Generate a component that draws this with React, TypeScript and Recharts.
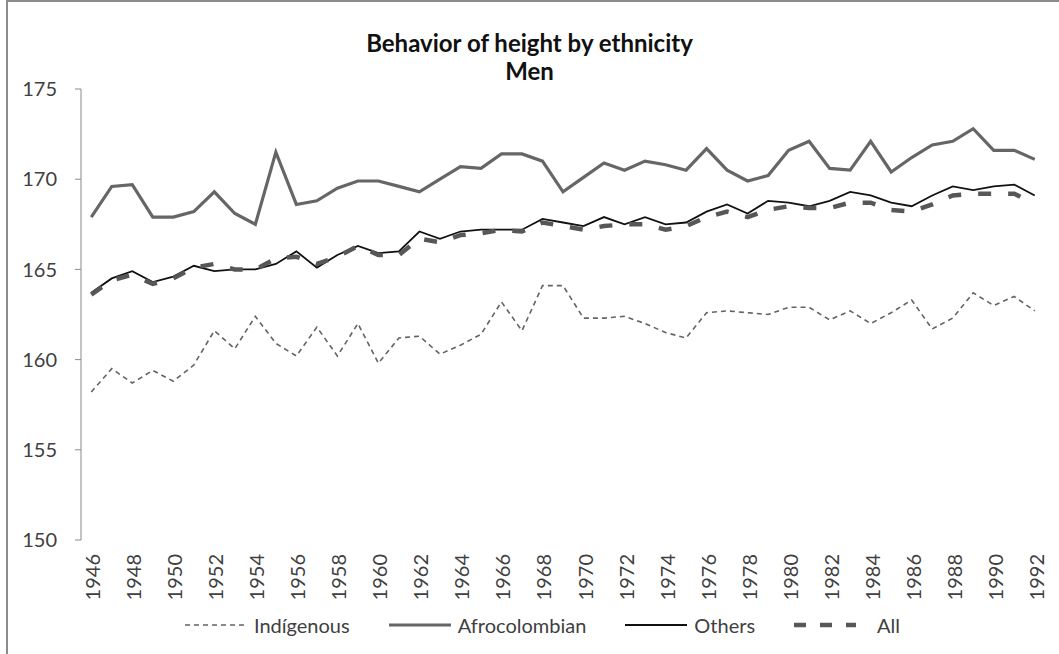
import { LineChart, Line, XAxis, YAxis, Legend } from 'recharts'

const years = [
  1946, 1947, 1948, 1949, 1950, 1951, 1952, 1953, 1954, 1955, 1956, 1957, 1958, 1959, 1960, 1961,
  1962, 1963, 1964, 1965, 1966, 1967, 1968, 1969, 1970, 1971, 1972, 1973, 1974, 1975, 1976, 1977,
  1978, 1979, 1980, 1981, 1982, 1983, 1984, 1985, 1986, 1987, 1988, 1989, 1990, 1991, 1992,
]

const indigenous = [
  158.2, 159.5, 158.7, 159.4, 158.8, 159.7, 161.6, 160.6, 162.4, 160.9, 160.2, 161.8, 160.2, 162.0, 159.8, 161.2,
  161.3, 160.3, 160.8, 161.4, 163.2, 161.6, 164.1, 164.1, 162.3, 162.3, 162.4, 162.0, 161.5, 161.2, 162.6, 162.7,
  162.6, 162.5, 162.9, 162.9, 162.2, 162.7, 162.0, 162.6, 163.3, 161.7, 162.3, 163.7, 163.0, 163.5, 162.7,
]

const afro = [
  167.9, 169.6, 169.7, 167.9, 167.9, 168.2, 169.3, 168.1, 167.5, 171.5, 168.6, 168.8, 169.5, 169.9, 169.9, 169.6,
  169.3, 170.0, 170.7, 170.6, 171.4, 171.4, 171.0, 169.3, 170.1, 170.9, 170.5, 171.0, 170.8, 170.5, 171.7, 170.5,
  169.9, 170.2, 171.6, 172.1, 170.6, 170.5, 172.1, 170.4, 171.2, 171.9, 172.1, 172.8, 171.6, 171.6, 171.1,
]

const others = [
  163.7, 164.5, 164.9, 164.3, 164.6, 165.2, 164.9, 165.0, 165.0, 165.3, 166.0, 165.1, 165.8, 166.3, 165.9, 166.0,
  167.1, 166.7, 167.1, 167.2, 167.2, 167.2, 167.8, 167.6, 167.4, 167.9, 167.5, 167.9, 167.5, 167.6, 168.2, 168.6,
  168.1, 168.8, 168.7, 168.5, 168.8, 169.3, 169.1, 168.7, 168.5, 169.1, 169.6, 169.4, 169.6, 169.7, 169.1,
]

const all = [
  163.6, 164.4, 164.7, 164.2, 164.5, 165.1, 165.3, 165.0, 165.0, 165.6, 165.7, 165.3, 165.7, 166.3, 165.8, 165.8,
  166.7, 166.5, 166.9, 167.0, 167.2, 167.1, 167.6, 167.4, 167.2, 167.4, 167.5, 167.5, 167.2, 167.4, 167.9, 168.2,
  167.9, 168.3, 168.5, 168.4, 168.4, 168.7, 168.7, 168.3, 168.2, 168.6, 169.1, 169.2, 169.2, 169.2, 168.6,
]

const yTicks = [150, 155, 160, 165, 170, 175]
const labelYears = years.filter((y) => y % 2 === 0)
const boundaries = [...years.map((y) => y - 0.5), years[years.length - 1] + 0.5]

const series = [
  { key: 'indigenous', name: 'Indígenous', color: '#636363', width: 1.6, dash: '5 4' },
  { key: 'afro', name: 'Afrocolombian', color: '#666666', width: 3.2, dash: undefined },
  { key: 'others', name: 'Others', color: '#111111', width: 1.8, dash: undefined },
  { key: 'all', name: 'All', color: '#575757', width: 4.5, dash: '13 17' },
]

const data = years.map((year, i) => ({
  year,
  indigenous: indigenous[i],
  afro: afro[i],
  others: others[i],
  all: all[i],
}))

const FONT = 'Lato, "Open Sans", sans-serif'
const AXIS = '#8a8a8a'

function YearTick(props: any) {
  const { x, y, payload } = props
  return (
    <text
      x={x}
      y={y + 6}
      dy="0.45em"
      transform={`rotate(-90, ${x}, ${y + 6})`}
      textAnchor="end"
      fill="#404040"
      fontSize={20}
      fontFamily={FONT}
    >
      {payload.value}
    </text>
  )
}

function LegendContent() {
  return (
    <div
      style={{
        display: 'flex',
        justifyContent: 'center',
        alignItems: 'center',
        gap: 39,
        height: 30,
        fontFamily: FONT,
        fontSize: 20,
        color: '#404040',
        paddingLeft: 40,
      }}
    >
      {series.map((s) => (
        <div key={s.key} style={{ display: 'flex', alignItems: 'center', gap: 7 }}>
          <svg width={62} height={10}>
            <line
              x1={0}
              y1={5}
              x2={62}
              y2={5}
              stroke={s.color}
              strokeWidth={s.width}
              strokeDasharray={s.key === 'all' ? '12 14' : s.dash}
            />
          </svg>
          <span style={{ marginLeft: s.key === 'all' ? 14 : 0 }}>{s.name}</span>
        </div>
      ))}
    </div>
  )
}

export default function App() {
  return (
    <div
      style={{
        position: 'absolute',
        left: 0,
        top: 0,
        width: 1059,
        height: 654,
        background: '#fff',
      }}
    >
      <div
        style={{
          position: 'absolute',
          left: 6,
          top: 0,
          right: 0,
          bottom: 0,
          borderLeft: '2px solid #8c8c8c',
          borderTop: '2px solid #8c8c8c',
        }}
      />
      <div
        style={{
          position: 'absolute',
          left: 0,
          top: 29,
          width: 1059,
          textAlign: 'center',
          fontFamily: FONT,
          fontWeight: 700,
          fontSize: 24,
          lineHeight: '28px',
          color: '#111',
        }}
      >
        <div>Behavior of height by ethnicity</div>
        <div>Men</div>
      </div>
      <LineChart
        width={1059}
        height={654}
        data={data}
        margin={{ top: 89, right: 14, left: 0, bottom: 24 }}
        style={{ position: 'absolute', left: 0, top: 0 }}
      >
        <XAxis
          xAxisId="grid"
          type="number"
          dataKey="year"
          domain={[1945.5, 1992.5]}
          ticks={boundaries}
          height={0}
          tick={() => <g />}
          tickSize={6}
          stroke={AXIS}
          allowDataOverflow
        />
        <XAxis
          xAxisId="labels"
          type="number"
          dataKey="year"
          domain={[1945.5, 1992.5]}
          ticks={labelYears}
          height={60}
          axisLine={false}
          tickLine={false}
          tick={<YearTick />}
          interval={0}
          allowDataOverflow
        />
        <YAxis
          domain={[150, 175]}
          ticks={yTicks}
          width={81}
          stroke={AXIS}
          tickSize={6}
          tickMargin={18}
          tick={{ fill: '#404040', fontSize: 20, fontFamily: FONT }}
        />
        <Legend
          verticalAlign="bottom"
          height={30}
          content={<LegendContent />}
          wrapperStyle={{ bottom: 14 }}
        />
        {series.map((s) => (
          <Line
            key={s.key}
            xAxisId="grid"
            type="linear"
            dataKey={s.key}
            name={s.name}
            stroke={s.color}
            strokeWidth={s.width}
            strokeDasharray={s.dash}
            dot={false}
            isAnimationActive={false}
          />
        ))}
      </LineChart>
    </div>
  )
}
